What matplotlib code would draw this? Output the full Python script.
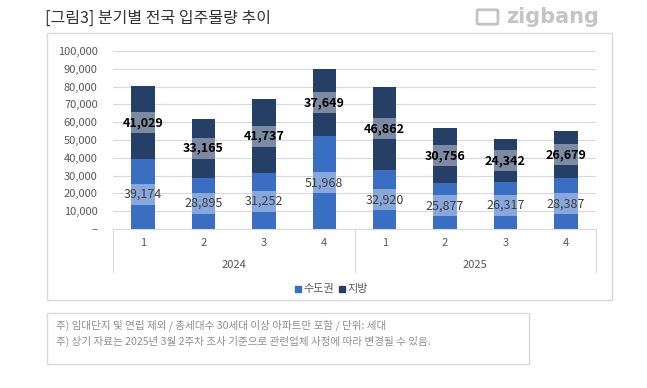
#!/usr/bin/env python3
import matplotlib
matplotlib.use("Agg")
import matplotlib.pyplot as plt
from matplotlib.patches import Rectangle, FancyBboxPatch
from matplotlib.lines import Line2D
import numpy as np

plt.rcParams['font.family'] = ['Noto Sans CJK KR', 'DejaVu Sans']

# data
quarters = ["1", "2", "3", "4", "1", "2", "3", "4"]
years = ["2024", "2025"]
capital = [39174, 28895, 31252, 51968, 32920, 25877, 26317, 28387]   # 수도권
local = [41029, 33165, 41737, 37649, 46862, 30756, 24342, 26679]     # 지방
series_names = ["수도권", "지방"]
yticks = list(range(0, 100001, 10000))

C_CAP = "#3A6EC2"
C_LOC = "#263F66"

W, H = 647, 388
fig = plt.figure(figsize=(W / 100, H / 100), dpi=100)

def fx(px):
    return px / W

def fy(py):
    return 1 - py / H

# title + logo
fig.text(fx(45), fy(18), "[그림3] 분기별 전국 입주물량 추이", fontsize=11.5,
         color="#333333", va="center", ha="left", fontweight="medium")
fig.text(fx(506), fy(17), "zigbang", fontsize=15, fontweight="bold",
         color="#c4c4c4", va="center", ha="left", family="DejaVu Sans")
logo = FancyBboxPatch((fx(479), fy(23)), fx(17), fy(11) - fy(23),
                      boxstyle="round,pad=0.003", transform=fig.transFigure,
                      fill=False, edgecolor="#c4c4c4", lw=2.0)
fig.patches.append(logo)

# outer chart box
fig.patches.append(Rectangle((fx(47), fy(300)), fx(612) - fx(47), fy(33) - fy(300),
                             transform=fig.transFigure, fill=False,
                             edgecolor="#d9d9d9", lw=1))
# footnote box
fig.patches.append(Rectangle((fx(47), fy(364)), fx(529) - fx(47), fy(313) - fy(364),
                             transform=fig.transFigure, fill=False,
                             edgecolor="#d9d9d9", lw=1))
fig.text(fx(56), fy(325), "주) 임대단지 및 연립 제외 / 총세대수 30세대 이상 아파트만 포함 / 단위: 세대",
         fontsize=7.6, color="#8f8f8f", va="center")
fig.text(fx(56), fy(341), "주) 상기 자료는 2025년 3월 2주차 조사 기준으로 관련업체 사정에 따라 변경될 수 있음.",
         fontsize=7.6, color="#8f8f8f", va="center")

# plot area
left, right, top, bottom = 113, 596, 51, 229
ax = fig.add_axes([fx(left), fy(bottom), fx(right) - fx(left), fy(top) - fy(bottom)])
x = np.arange(len(capital))
bw = 0.39
ax.bar(x, capital, bw, color=C_CAP, zorder=2)
ax.bar(x, local, bw, bottom=capital, color=C_LOC, zorder=2)

ax.set_xlim(-0.5, len(capital) - 0.5)
ax.set_ylim(0, 100000)
ax.set_yticks(yticks)
ax.set_yticklabels(["–"] + ["{:,}".format(v) for v in yticks[1:]])
ax.tick_params(axis="y", length=0, labelsize=8, colors="#595959", pad=11)
ax.set_xticks([])
ax.grid(axis="y", color="#d9d9d9", lw=0.8, zorder=0)
for s in ["top", "right", "left"]:
    ax.spines[s].set_visible(False)
ax.spines["bottom"].set_color("#d9d9d9")

# data labels with translucent boxes
box_h = 21 / (bottom - top) * 100000
for i in range(len(capital)):
    yc = capital[i] / 2
    yl = capital[i] + local[i] / 2
    for yy, val, col, wt in [(yc, capital[i], "#404040", "normal"),
                             (yl, local[i], "#000000", "bold")]:
        ax.add_patch(Rectangle((x[i] - bw / 2, yy - box_h / 2), bw, box_h,
                               facecolor="white", alpha=0.4, lw=0, zorder=3))
        ax.text(x[i], yy, "{:,}".format(val), ha="center", va="center",
                fontsize=9, color=col, fontweight=wt, zorder=4)

# category axis (quarters + years)
tr = ax.get_xaxis_transform()
px_to_ax = 1 / (bottom - top)
for i, q in enumerate(quarters):
    ax.text(x[i], -14 * px_to_ax, q, transform=tr, ha="center", va="center",
            fontsize=8, color="#595959", clip_on=False)
for j, yr in enumerate(years):
    ax.text(j * 4 + 1.5, -36 * px_to_ax, yr, transform=tr, ha="center", va="center",
            fontsize=8, color="#595959", clip_on=False)
for xv in [-0.5, 3.5, 7.5]:
    ax.add_line(Line2D([xv, xv], [0, -43 * px_to_ax], transform=tr,
                       color="#d9d9d9", lw=0.8, clip_on=False))

# legend
fig.patches.append(Rectangle((fx(295), fy(292)), fx(6), fy(286) - fy(292),
                             transform=fig.transFigure, color=C_CAP))
fig.text(fx(303), fy(289), series_names[0], fontsize=8, color="#595959", va="center")
fig.patches.append(Rectangle((fx(339), fy(292)), fx(6), fy(286) - fy(292),
                             transform=fig.transFigure, color=C_LOC))
fig.text(fx(347), fy(289), series_names[1], fontsize=8, color="#595959", va="center")

fig.savefig("out.png", dpi=100)
